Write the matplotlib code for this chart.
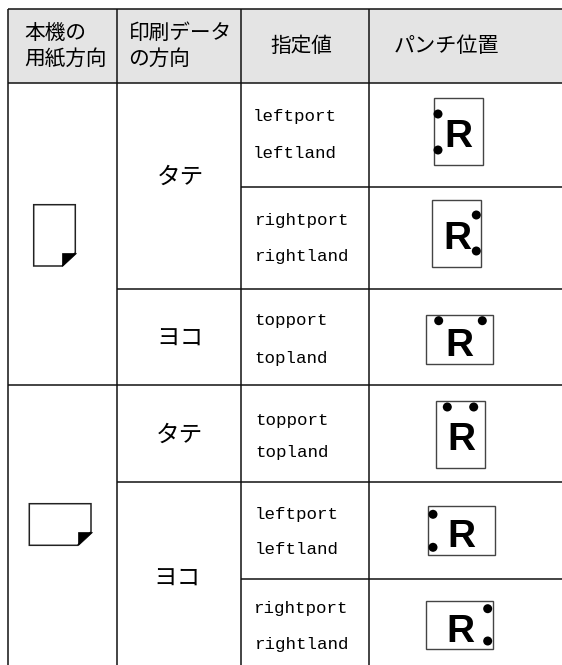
import matplotlib
matplotlib.use('Agg')
import matplotlib.pyplot as plt
from matplotlib.patches import Rectangle, Polygon, Circle

plt.rcParams['font.family'] = ['Noto Sans CJK JP', 'DejaVu Sans']

# table text
header_left = ['本機の', '用紙方向']
header_data = ['印刷データ', 'の方向']
header_value = '指定値'
header_punch = 'パンチ位置'
orient_labels = ['タテ', 'ヨコ', 'タテ', 'ヨコ']
value_labels = ['leftport', 'leftland', 'rightport', 'rightland', 'topport', 'topland',
                'topport', 'topland', 'leftport', 'leftland', 'rightport', 'rightland']

# layout, in pixels of the picture
W, H = 562, 665
col_x = [7.5, 116.5, 240.5, 368.5]
top_y, head_y = 8.5, 82.5
orient_pos = [(180, 177), (180, 339), (179, 435), (177, 579)]
value_pos = [(253, 116), (253, 153), (255, 220), (255, 256), (254, 320), (254, 358),
             (255, 421), (255, 453), (255, 514), (255, 550), (254, 608), (255, 644)]

# (box x0, y0, x1, y1), R centre, dot centres
punch_icons = [
    ((433.5, 97.7, 482.7, 165), (458, 132.7), [(438, 114), (438, 150)]),
    ((432.3, 200, 481.3, 267), (457, 235), [(476.3, 215), (476.3, 251)]),
    ((425.7, 315.3, 493, 364.3), (459.7, 342.5), [(438.7, 320.7), (482.3, 320.7)]),
    ((436.3, 401.3, 485.3, 468), (461, 436), [(447.3, 407), (473.7, 407)]),
    ((427.7, 505.7, 494.7, 554.7), (461, 532.7), [(433, 514.3), (433, 547.3)]),
    ((426.3, 600.7, 493.3, 649.3), (460.3, 628.3), [(487.7, 608.7), (487.7, 641)]),
]

fig = plt.figure(figsize=(W / 100, H / 100), dpi=100)
ax = fig.add_axes([0, 0, 1, 1])
ax.set_xlim(0, W)
ax.set_ylim(H, 0)
ax.axis('off')

# header band
ax.add_patch(Rectangle((col_x[0], top_y), W - col_x[0], head_y - top_y, fc='#e4e4e4', ec='none', zorder=0))

# grid lines
line_kw = dict(color='#111111', lw=1.1, solid_capstyle='butt', zorder=1)
for x in col_x:
    ax.plot([x, x], [top_y, H], **line_kw)
ax.plot([col_x[0], W], [top_y, top_y], **line_kw)
ax.plot([col_x[0], W], [head_y, head_y], **line_kw)
ax.plot([col_x[0], W], [385, 385], **line_kw)
ax.plot([col_x[1], W], [288.5, 288.5], **line_kw)
ax.plot([col_x[1], W], [482, 482], **line_kw)
ax.plot([col_x[2], W], [187, 187], **line_kw)
ax.plot([col_x[2], W], [579, 579], **line_kw)

# header text
for i, s in enumerate(header_left):
    ax.text(24, 33 + 25.5 * i, s, fontsize=14.9, ha='left', va='center')
for i, s in enumerate(header_data):
    ax.text(128.5, 33 + 25.5 * i, s, fontsize=14.9, ha='left', va='center')
ax.text(301, 46, header_value, fontsize=14.9, ha='center', va='center')
ax.text(446.5, 46, header_punch, fontsize=15.2, ha='center', va='center')

for s, (x, y) in zip(orient_labels, orient_pos):
    ax.text(x, y, s, fontsize=17, ha='center', va='center')

for s, (x, y) in zip(value_labels, value_pos):
    ax.text(x, y, s, fontsize=12.6, family='Liberation Mono', ha='left', va='center')


def page_icon(x0, y0, x1, y1, fold):
    # sheet with the lower right corner turned over
    ax.add_patch(Polygon([(x0, y0), (x1, y0), (x1, y1 - fold), (x1 - fold, y1), (x0, y1)],
                         closed=True, fc='white', ec='#222222', lw=1.1, zorder=2))
    ax.add_patch(Polygon([(x1 - fold, y1), (x1 - fold, y1 - fold), (x1 + 0.5, y1 - fold)],
                         closed=True, fc='black', ec='black', lw=0.5, zorder=3))


page_icon(33.7, 204.7, 75.3, 266, 13.3)
page_icon(29.3, 503.7, 91, 545.3, 13.5)

# punch position icons
for (x0, y0, x1, y1), (rx, ry), dots in punch_icons:
    ax.add_patch(Rectangle((x0, y0), x1 - x0, y1 - y0, fc='white', ec='#444444', lw=1.0, zorder=2))
    ax.text(rx, ry, 'R', fontsize=28, family='Liberation Sans', weight='bold',
            ha='center', va='center_baseline', zorder=3)
    for d in dots:
        ax.add_patch(Circle(d, 4.5, fc='black', ec='none', zorder=4))

fig.savefig('out.png', dpi=100)
